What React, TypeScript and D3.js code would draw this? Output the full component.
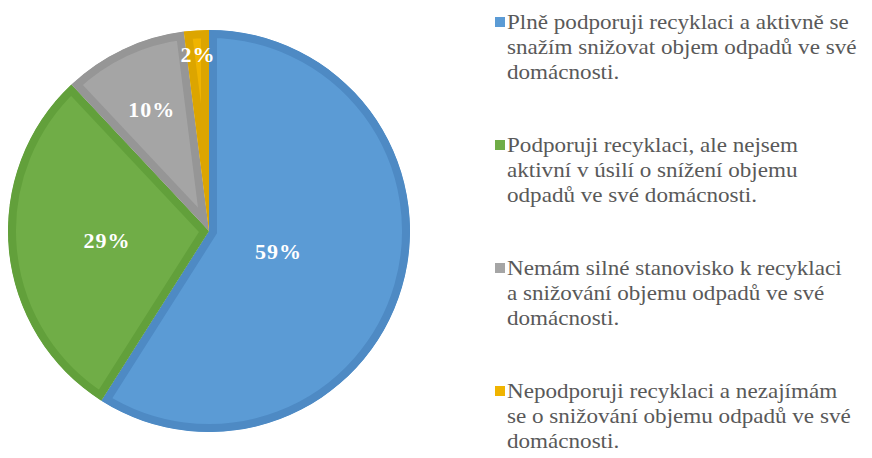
import {useMemo} from "react";
import * as d3 from "d3";

const WIDTH = 872;
const HEIGHT = 458;

// answer categories (legend text, already broken into lines as in the picture)
const categories = [
    ["Plně podporuji recyklaci a aktivně se", "snažím snižovat objem odpadů ve své", "domácnosti."],
    ["Podporuji recyklaci, ale nejsem", "aktivní v úsilí o snížení objemu", "odpadů ve své domácnosti."],
    ["Nemám silné stanovisko k recyklaci", "a snižování objemu odpadů ve své", "domácnosti."],
    ["Nepodporuji recyklaci a nezajímám", "se o snižování objemu odpadů ve své", "domácnosti."],
];
const shares = [59, 29, 10, 2];

const fills = ["#5b9bd5", "#70ad47", "#a5a5a5", "#f0b400"];
const borders = ["#4e8ac4", "#62a03b", "#969696", "#dca500"];

// how far out (fraction of radius) each data label sits, like Excel's best fit
const LABEL_POS = [0.36, 0.51, 0.67, 0.88];

const CX = 209;
const CY = 231;
const R = 201;
const BORDER = 8;

export default function App() {
    const arcs = useMemo(() => d3.pie<number>().sort(null).value((d) => d)(shares), []);
    const arc = d3.arc<d3.PieArcDatum<number>>().innerRadius(0).outerRadius(R);

    const legendX = 495;
    const legendTop = 17;
    const entryGap = 123;
    const lineH = 25;
    // the legend text in the picture is set a bit wider than the plain font
    const stretch = 1.1;

    return (
        <svg
            width={WIDTH}
            height={HEIGHT}
            style={{position: "absolute", left: 0, top: 0, background: "#fff"}}
        >
            <defs>
                {arcs.map((a, i) => (
                    <clipPath id={`slice-${i}`} key={i}>
                        <path d={arc(a) ?? ""}/>
                    </clipPath>
                ))}
            </defs>
            <g transform={`translate(${CX},${CY})`}>
                {arcs.map((a, i) => (
                    <path
                        key={i}
                        d={arc(a) ?? ""}
                        fill={fills[i]}
                        stroke={borders[i]}
                        strokeWidth={BORDER * 2}
                        clipPath={`url(#slice-${i})`}
                    />
                ))}
                {arcs.map((a, i) => {
                    const mid = (a.startAngle + a.endAngle) / 2;
                    const r = R * LABEL_POS[i];
                    return (
                        <text
                            key={i}
                            x={Math.sin(mid) * r}
                            y={-Math.cos(mid) * r}
                            textAnchor="middle"
                            dominantBaseline="central"
                            fontFamily="Liberation Serif"
                            fontWeight="bold"
                            fontSize={22}
                            letterSpacing={1}
                            fill="#ffffff"
                        >
                            {a.data}%
                        </text>
                    );
                })}
            </g>
            {categories.map((lines, i) => {
                const y0 = legendTop + i * entryGap;
                return (
                    <g key={i}>
                        <rect x={legendX} y={y0} width={10} height={10} fill={fills[i]}/>
                        {lines.map((line, j) => (
                            <text
                                key={j}
                                transform={`translate(${legendX + 12},${y0 + 12 + j * lineH}) scale(${stretch},1)`}
                                fontFamily="Liberation Serif"
                                fontSize={21}
                                fill="#595959"
                            >
                                {line}
                            </text>
                        ))}
                    </g>
                );
            })}
        </svg>
    );
}
